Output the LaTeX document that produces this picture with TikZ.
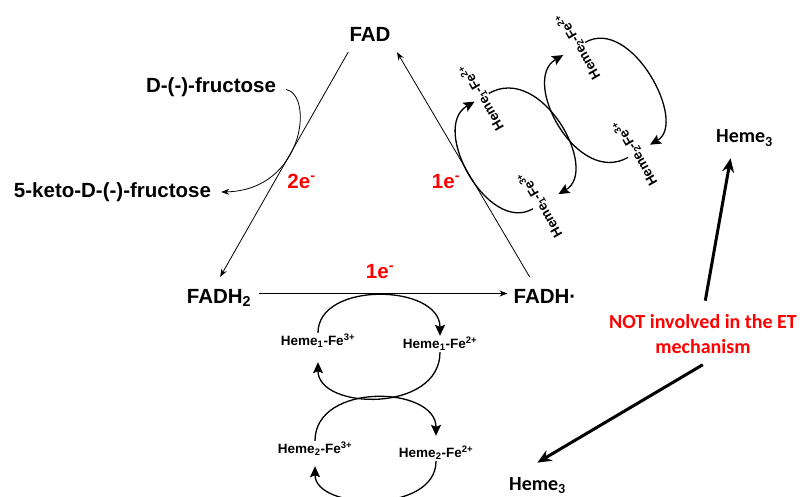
\documentclass[tikz,border=0pt]{standalone}
\usepackage{fontspec}
\setmainfont{Liberation Sans}
\newfontfamily\calibfont{Carlito}
\usepackage{tikz}
\usetikzlibrary{arrows.meta}

\tikzset{
	lab/.style={font=\fontsize{20.5}{24}\selectfont\bfseries, inner sep=1pt},
	elab/.style={lab, text=red},
	heme/.style={font=\fontsize{13.5}{16}\selectfont\bfseries, inner sep=1pt},
	note/.style={font=\calibfont\fontsize{20}{24.5}\selectfont\bfseries, inner sep=1pt, align=center},
	flow/.style={line width=0.8pt, -{Stealth[length=8pt,width=6pt]}},
	cyc/.style={line width=1.3pt, -{Stealth[length=11pt,width=10pt,inset=2pt]}},
	bigarrow/.style={line width=3pt, -{Stealth[length=14pt,width=12pt]}}
}

% the two heme redox cycles
\newcommand{\hemecycle}{%
	\node[heme] (h1a) at (-64,56.5) {Heme\textsubscript{1}-Fe\textsuperscript{3+}};
	\node[heme] (h1b) at (58,53.5) {Heme\textsubscript{1}-Fe\textsuperscript{2+}};
	\node[heme] (h2a) at (-67,-51.5) {Heme\textsubscript{2}-Fe\textsuperscript{3+}};
	\node[heme] (h2b) at (54,-55.5) {Heme\textsubscript{2}-Fe\textsuperscript{2+}};
	\draw[cyc] (h1a.north) .. controls +(0,52) and +(0,52) .. (h1b.north);
	\draw[cyc, shorten >=13pt] (h1b.south) .. controls +(0,-61) and +(0,-61) .. (h1a.south);
	\draw[cyc, shorten >=9pt] (h2a.north) .. controls +(0,59) and +(0,59) .. (h2b.north);
	\draw[cyc, shorten >=9pt] (h2b.south) .. controls +(0,-53) and +(0,-53) .. (h2a.south);
}

\begin{document}
\begin{tikzpicture}[x=1pt,y=1pt]
	\useasboundingbox (0,0) rectangle (810,-497);
	
	% Define the FAD states
	\node[lab, anchor=base] (fad) at (370,-42) {FAD};
	\node[lab, anchor=base] (fadh2) at (219,-303) {FADH\textsubscript{2}};
	\node[lab, anchor=base] (fadh) at (545,-303) {FADH·};
	
	% Define the substrate and product
	\node[lab, anchor=base] (fru) at (211,-93) {D-(-)-fructose};
	\node[lab, anchor=base] (keto) at (112.5,-197.5) {5-keto-D-(-)-fructose};
	
	% Label the electrons
	\node[elab, anchor=base] (e2) at (301.5,-188) {2e\textsuperscript{-}};
	\node[elab, anchor=base] (e1a) at (446,-188) {1e\textsuperscript{-}};
	\node[elab, anchor=base] (e1b) at (380,-278) {1e\textsuperscript{-}};
	
	% Draw the triangle
	\draw[flow, shorten <=10pt, shorten >=12.5pt] ([xshift=5pt]fad.south west) -- ([xshift=-5pt]fadh2.north);
	\draw[flow, shorten <=7pt, shorten >=5pt] ([yshift=4pt]fadh2.east) -- ([yshift=4pt]fadh2.east -| fadh.west);
	\draw[flow, shorten <=12.5pt, shorten >=10.5pt] ([xshift=-9pt]fadh.north) -- (fad.south east);
	
	% Draw the fructose oxidation
	\draw[flow, shorten <=9pt, shorten >=9pt] (fru.east) .. controls +(37,-7) and +(92,2) .. (keto.east);
	
	% Draw the heme cycles
	\begin{scope}[shift={(382,-397.5)}, name prefix=bot-]
		\hemecycle
	\end{scope}
	\begin{scope}[shift={(557,-121)}, rotate=120, transform shape, name prefix=top-]
		\hemecycle
	\end{scope}
	
	% Heme 3
	\node[note, text=red] (not) at (703,-334) {NOT involved in the ET\\mechanism};
	\node[note, anchor=base] (heme3a) at (744.5,-143) {Heme\textsubscript{3}};
	\node[note, anchor=base] (heme3b) at (537.5,-490) {Heme\textsubscript{3}};
	\draw[bigarrow, shorten <=13pt, shorten >=11pt] (not.north) -- ([xshift=-12pt]heme3a.south);
	\draw[bigarrow, shorten <=20pt, shorten >=26pt] ([xshift=17pt]not.south) -- ([xshift=7pt]heme3b.north west);
	
\end{tikzpicture}
\end{document}
